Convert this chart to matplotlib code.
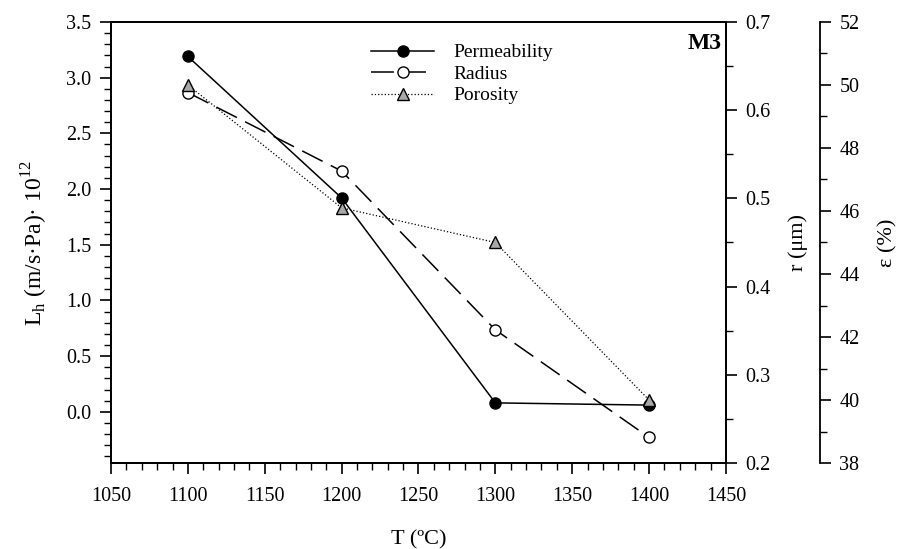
import matplotlib
matplotlib.use('Agg')
import matplotlib.pyplot as plt
from matplotlib.ticker import MultipleLocator, FormatStrFormatter

plt.rcParams['font.family'] = ['Liberation Serif', 'DejaVu Serif']
plt.rcParams['mathtext.fontset'] = 'custom'
plt.rcParams['mathtext.rm'] = 'Liberation Serif'

# sintering temperature (ºC)
temperature = [1100, 1200, 1300, 1400]
# hydraulic permeability Lh x 1e12 (m/s·Pa)
permeability = [3.19, 1.92, 0.08, 0.06]
# mean pore radius (um)
radius = [0.620, 0.531, 0.351, 0.229]
# porosity (%)
porosity = [50.0, 46.1, 45.0, 40.0]

fig = plt.figure(figsize=(8.99, 5.49), dpi=100)
ax = fig.add_axes([0.1235, 0.1566, 0.684, 0.8034])
ax_r = ax.twinx()
ax_e = ax.twinx()
ax_e.spines['right'].set_position(('axes', 1.153))
ax_e.spines['top'].set_visible(False)
ax_e.spines['bottom'].set_visible(False)
ax_e.spines['left'].set_visible(False)
ax_e.patch.set_visible(False)

l1, = ax.plot(temperature, permeability, '-', color='black', lw=1.1,
              marker='o', ms=8, mfc='black', mec='black', label='Permeability', zorder=5)
l2, = ax_r.plot(temperature, radius, color='black', lw=1.1, dashes=(15, 6),
                marker='o', ms=8, mfc='white', mec='black', label='Radius', zorder=5)
l3, = ax_e.plot(temperature, porosity, ':', color='black', lw=0.9,
                marker='^', ms=8, mfc='#a8a8a8', mec='black', label='Porosity', zorder=5)

ax.set_xlim(1050, 1450)
ax.set_ylim(-0.46, 3.5)
ax_r.set_ylim(0.2, 0.7)
ax_e.set_ylim(38, 52)

ax.xaxis.set_major_locator(MultipleLocator(50))
ax.xaxis.set_minor_locator(MultipleLocator(10))
ax.yaxis.set_major_locator(MultipleLocator(0.5))
ax.yaxis.set_minor_locator(MultipleLocator(0.1))
ax.yaxis.set_major_formatter(FormatStrFormatter('%.1f'))
ax_r.yaxis.set_major_locator(MultipleLocator(0.1))
ax_r.yaxis.set_minor_locator(MultipleLocator(0.05))
ax_r.yaxis.set_major_formatter(FormatStrFormatter('%.1f'))
ax_e.yaxis.set_major_locator(MultipleLocator(2))
ax_e.yaxis.set_minor_locator(MultipleLocator(1))

for a in (ax, ax_r, ax_e):
    a.tick_params(which='major', direction='out', length=8, width=1.2,
                  labelsize=14.5, pad=6)
    a.tick_params(which='minor', direction='out', length=5, width=1.0)
    for s in a.spines.values():
        s.set_linewidth(1.3)
ax.tick_params(top=False, right=False, which='both')
ax.tick_params(axis='x', which='major', pad=9)

ax.set_xlabel('T (ºC)', fontsize=16, labelpad=18)
ax.set_ylabel(r'L$_\mathregular{h}$ (m/s·Pa)· 10$^\mathregular{12}$', fontsize=17, labelpad=12)
ax_r.set_ylabel('r (μm)', fontsize=16, labelpad=13)
ax_e.set_ylabel('ε (%)', fontsize=16, labelpad=13)

ax.text(0.993, 0.975, 'M3', transform=ax.transAxes, ha='right', va='top',
        fontsize=17, fontweight='bold')

ax.legend(handles=[l1, l2, l3], loc='upper left', bbox_to_anchor=(0.395, 0.99),
          frameon=False, fontsize=14, handlelength=3.2, handletextpad=1.0,
          labelspacing=0.2)

fig.savefig('out.png', dpi=100)
